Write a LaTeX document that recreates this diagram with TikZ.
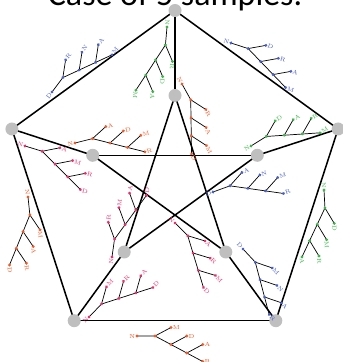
\documentclass[tikz,border=0pt]{standalone}
\usepackage{fontspec}
\newfontfamily\titlefont{Carlito}
\definecolor{treeblue}{HTML}{4A5FC8}
\definecolor{treegreen}{HTML}{3DB54A}
\definecolor{treeorange}{HTML}{F05A28}
\definecolor{treepink}{HTML}{E8306A}
\tikzset{
  vert/.style={circle,fill=black!25,inner sep=0pt,minimum size=0.39cm},
  edge/.style={line width=1.3pt},
  twig/.style={line width=0.6pt},
  tip/.style={font=\fontsize{5}{5}\selectfont,inner sep=1.4pt,transform shape}
}
% caterpillar tree: name, colour, root, angle, root label, four leaf labels
\newcommand{\cattree}[9]{%
  \begin{scope}[shift={(#3)},rotate=#4]
    \coordinate (#1r) at (0,0);
    \coordinate (#1a) at (18,0);
    \coordinate (#1b) at (33.9,-8.5);
    \coordinate (#1c) at (49.8,-17);
    \coordinate (#1la) at (33.9,8.5);
    \coordinate (#1lb) at (49.8,0);
    \coordinate (#1lc) at (65.7,-8.5);
    \coordinate (#1ld) at (65.7,-25.5);
    \draw[twig] (#1r) -- (#1a) -- (#1b) -- (#1c) -- (#1ld);
    \draw[twig] (#1a) -- (#1la) (#1b) -- (#1lb) (#1c) -- (#1lc);
    \foreach \p in {r,a,b,c,la,lb,lc,ld} \fill[#2] (#1\p) circle (1.6);
    \node[tip,#2,anchor=east] at (#1r) {#5};
    \node[tip,#2,anchor=west] at (#1la) {#6};
    \node[tip,#2,anchor=west] at (#1lb) {#7};
    \node[tip,#2,anchor=west] at (#1lc) {#8};
    \node[tip,#2,anchor=west] at (#1ld) {#9};
  \end{scope}}
\begin{document}
\begin{tikzpicture}[x=0.03cm,y=0.03cm]
\useasboundingbox (0,0) rectangle (343,362);
\node[font=\titlefont\fontsize{29}{29}\selectfont,anchor=base] (title) at (175,356) {Case of 5 samples.};
% outer pentagon
\coordinate (OT) at (175,351.5);
\coordinate (OL) at (11.9,233);
\coordinate (OBL) at (74.2,41.3);
\coordinate (OBR) at (275.8,41.3);
\coordinate (OR) at (338.1,233);
% inner star
\coordinate (IT) at (175,266.5);
\coordinate (IL) at (92.7,206.7);
\coordinate (IBL) at (124.2,110);
\coordinate (IBR) at (225.8,110);
\coordinate (IR) at (257.3,206.7);
\foreach \a/\b in {OT/OL,OT/OR,OL/OBL,OR/OBR,OBL/OBR,OT/IT,OL/IL,OR/IR,OBL/IBL,OBR/IBR,IT/IBL,IT/IBR,IL/IR,IL/IBR,IR/IBL}
  \draw[edge] (\a) -- (\b);
\foreach \v in {OT,OL,OBL,OBR,OR,IT,IL,IBL,IBR,IR}
  \node[vert] (n\v) at (\v) {};
% trees
\cattree{ta}{treeblue}{52,270}{53}{D}{R}{N}{A}{M}
\cattree{tb}{treeblue}{231,319}{-18}{N}{D}{R}{A}{M}
\cattree{tc}{treegreen}{167,335}{-95}{N}{R}{D}{A}{M}
\cattree{td}{treeorange}{182,278}{-61}{N}{R}{A}{M}{D}
\cattree{te}{treegreen}{251,216}{32}{N}{D}{A}{R}{M}
\cattree{tf}{treeorange}{75,219}{14}{N}{A}{D}{M}{R}
\cattree{tg}{treepink}{25,216}{-17}{N}{A}{M}{R}{D}
\cattree{th}{treeorange}{28,165}{-84}{N}{M}{A}{R}{D}
\cattree{ti}{treepink}{112,105}{82}{N}{R}{M}{A}{D}
\cattree{tj}{treepink}{89,45}{46}{N}{M}{R}{A}{D}
\cattree{tk}{treeorange}{137,26}{0}{N}{M}{D}{A}{R}
\cattree{tl}{treepink}{175,139}{-45}{N}{A}{R}{M}{D}
\cattree{tm}{treeblue}{213,170}{20}{D}{A}{N}{M}{R}
\cattree{tn}{treeblue}{243,113}{-47}{D}{M}{N}{A}{R}
\cattree{to}{treegreen}{324,172}{-87}{N}{D}{M}{R}{A}
\end{tikzpicture}
\end{document}
